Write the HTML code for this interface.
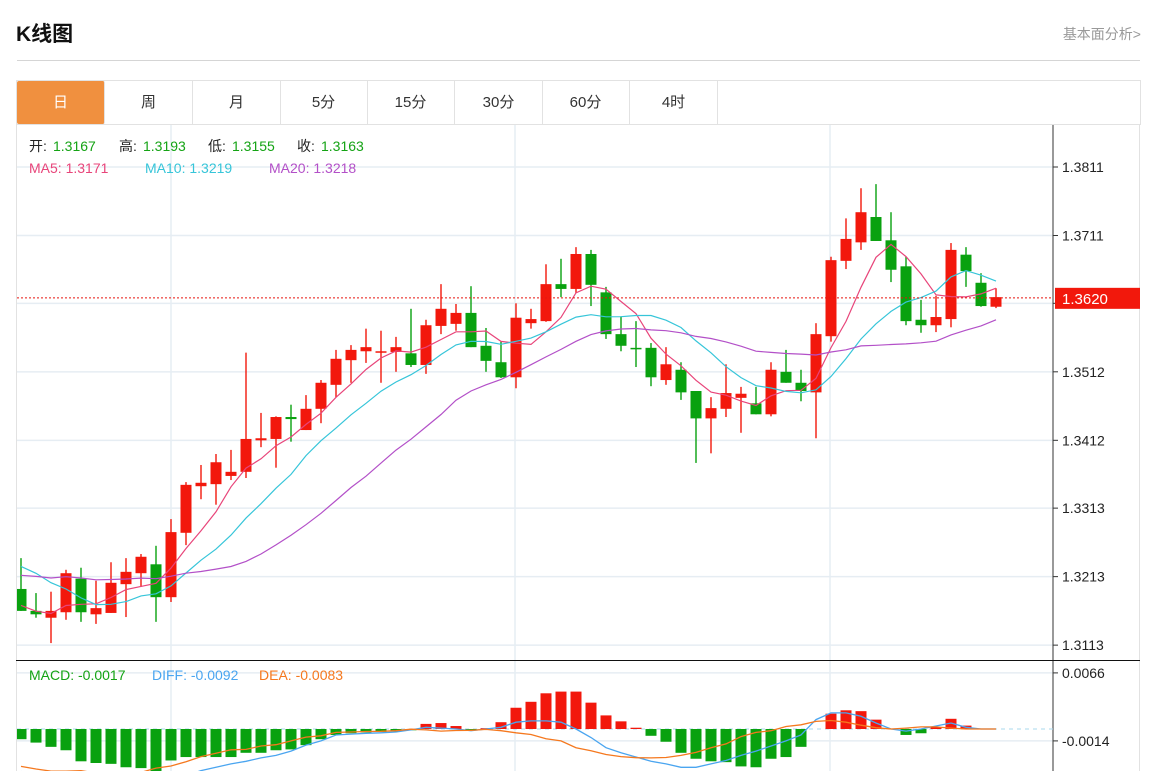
<!DOCTYPE html>
<html><head><meta charset="utf-8"><style>
html,body{margin:0;padding:0;background:#fff;}
body{width:1167px;height:771px;overflow:hidden;position:relative;font-family:"Liberation Sans","Noto Sans CJK SC",sans-serif;}
.title{position:absolute;left:16px;top:18px;font-size:21px;font-weight:bold;color:#111;}
.more{position:absolute;right:26px;top:24px;font-size:14px;color:#999;}
.hr{position:absolute;left:17px;top:60px;width:1123px;height:1px;background:#d5d5d5;}
.tabs{position:absolute;left:16px;top:80px;width:1123px;height:43px;border:1px solid #e2e2e2;border-bottom:1px solid #e2e2e2;}
.tab{position:absolute;top:0;height:43px;width:87px;border-right:1px solid #e2e2e2;text-align:center;line-height:43px;font-size:15px;color:#333;}
.tab.on{background:#f0903f;color:#fff;border-radius:2px;}
svg{position:absolute;left:0;top:0;}
</style></head><body>
<div class="title">K线图</div>
<div class="more">基本面分析&gt;</div>
<div class="hr"></div>
<div class="tabs">
<div class="tab on" style="left:0">日</div>
<div class="tab" style="left:88px">周</div>
<div class="tab" style="left:176px">月</div>
<div class="tab" style="left:263px">5分</div>
<div class="tab" style="left:350px">15分</div>
<div class="tab" style="left:438px">30分</div>
<div class="tab" style="left:525px">60分</div>
<div class="tab" style="left:613px">4时</div>
</div>
<svg id="chart" width="1167" height="771"></svg>
<script>
const opens=[1.3195,1.3163,1.3153,1.3161,1.3210,1.3158,1.3160,1.3202,1.3218,1.3231,1.3183,1.3277,1.3345,1.3348,1.3360,1.3366,1.3412,1.3414,1.3446,1.3427,1.3458,1.3493,1.3529,1.3542,1.3541,1.3541,1.3539,1.3522,1.3579,1.3582,1.3598,1.3550,1.3526,1.3504,1.3583,1.3586,1.3640,1.3633,1.3684,1.3628,1.3567,1.3547,1.3547,1.3500,1.3515,1.3484,1.3444,1.3458,1.3474,1.3466,1.3450,1.3512,1.3496,1.3482,1.3564,1.3674,1.3701,1.3738,1.3704,1.3666,1.3588,1.3580,1.3589,1.3683,1.3642,1.3607];
const closes=[1.3163,1.3158,1.3163,1.3218,1.3161,1.3167,1.3204,1.3220,1.3242,1.3183,1.3278,1.3347,1.3350,1.3380,1.3366,1.3414,1.3415,1.3446,1.3443,1.3458,1.3496,1.3531,1.3544,1.3548,1.3542,1.3548,1.3522,1.3580,1.3604,1.3598,1.3548,1.3528,1.3504,1.3591,1.3589,1.3640,1.3633,1.3684,1.3639,1.3567,1.3550,1.3545,1.3504,1.3523,1.3482,1.3444,1.3459,1.3481,1.3480,1.3450,1.3515,1.3496,1.3484,1.3567,1.3675,1.3706,1.3745,1.3703,1.3661,1.3586,1.3580,1.3592,1.3690,1.3659,1.3608,1.3621];
const highs=[1.3240,1.3189,1.3191,1.3223,1.3226,1.3207,1.3234,1.3240,1.3246,1.3258,1.3297,1.3351,1.3376,1.3392,1.3398,1.3540,1.3452,1.3447,1.3464,1.3478,1.3500,1.3544,1.3551,1.3575,1.3572,1.3563,1.3604,1.3588,1.3640,1.3611,1.3637,1.3576,1.3556,1.3612,1.3604,1.3669,1.3677,1.3694,1.3690,1.3636,1.3593,1.3586,1.3554,1.3548,1.3526,1.3484,1.3475,1.3523,1.3490,1.3490,1.3526,1.3544,1.3515,1.3583,1.3680,1.3736,1.3780,1.3786,1.3745,1.3680,1.3617,1.3623,1.3700,1.3694,1.3656,1.3634];
const lows=[1.3163,1.3153,1.3116,1.3150,1.3147,1.3144,1.3160,1.3154,1.3198,1.3147,1.3176,1.3259,1.3326,1.3318,1.3354,1.3357,1.3402,1.3372,1.3410,1.3427,1.3437,1.3475,1.3496,1.3525,1.3496,1.3512,1.3519,1.3509,1.3567,1.3572,1.3548,1.3512,1.3503,1.3488,1.3575,1.3585,1.3621,1.3627,1.3608,1.3560,1.3542,1.3519,1.3491,1.3493,1.3471,1.3379,1.3393,1.3446,1.3423,1.3450,1.3447,1.3496,1.3469,1.3415,1.3556,1.3662,1.3690,1.3703,1.3643,1.3580,1.3569,1.3570,1.3577,1.3636,1.3607,1.3605];
const priorCloses=[1.3190,1.3210,1.3180,1.3200,1.3220,1.3195,1.3205,1.3215,1.3200,1.3205,1.3260,1.3300,1.3310,1.3290,1.3265,1.3200,1.3180,1.3160,1.3152];
const priceTicks=[1.3811,1.3711,1.3612,1.3512,1.3412,1.3313,1.3213,1.3113];
const lastPrice=1.3620;
const macd=[-12,-16,-21,-25,-38,-40,-41,-45,-46,-52,-37,-33,-33,-33,-33,-28,-28,-25,-24,-19,-12,-7,-5,-4,-3.5,-3,-1.5,6,7,3.5,-1,1,8,25,32,42,44,44,31,16,9,1.5,-8,-15,-28,-35,-38,-39,-44,-45,-35,-33,-21,0,18,22,21,11,0,-7,-5,2,12,4,0.5,0];
const diff=[-50,-55,-60,-62,-68,-72,-74,-75,-74,-70,-62,-55,-49,-45,-41,-38,-34,-31,-26,-19,-14,-7,-6,-5,-4.5,-3.5,-1,2,1,0,-2,0,2,8,9.5,9.5,8,0,-10,-22,-28,-33,-38,-41,-45,-45,-41,-37,-31,-26,-20,-14,-7,11,19,19,15,7,0,-2.5,0,3.5,7,2,0,0];
const dea=[-44,-47,-49.5,-49.5,-49,-52,-53.5,-52.5,-51,-46,-43.5,-38.5,-32.5,-28.5,-24.5,-24,-20,-18.5,-14,-9.5,-8,-4,-3.5,-3,-2.75,-2,-0.25,-1,-2.5,-1.75,-1.5,-0.5,-2,-4.5,-6.5,-11.5,-14,-22,-25.5,-30,-32.5,-33.75,-34,-33.5,-31,-27.5,-22,-17.5,-9,-4,-2,3,5,9,10,8,4.5,1.5,0,1,2.5,2.5,1,0,0,0];
const macdTicks=[0.0066,-0.0014];

const NS='http://www.w3.org/2000/svg';
const svg=document.getElementById('chart');
function el(tag,attrs,parent){const e=document.createElementNS(NS,tag);for(const k in attrs)e.setAttribute(k,attrs[k]);(parent||svg).appendChild(e);return e;}
const xOf=i=>21+15*i;
const yP=p=>167+(1.3811-p)*6850;
const yM=v=>729-v*1e-4*8500;
const N=Math.min(opens.length,closes.length,highs.length,lows.length);
const RED='#f2180c',GREEN='#09a10f';

// chart frame
let r=el('rect',{x:16.5,y:124.5,width:1123,height:660,fill:'none',stroke:'#e2e2e2'});


// clip paths
const defs=el('defs',{});
const c1=el('clipPath',{id:'cp'},defs);el('rect',{x:17,y:125,width:1036,height:535},c1);
const c2=el('clipPath',{id:'cm'},defs);el('rect',{x:17,y:661,width:1036,height:110},c2);
// grid
const grid=el('g',{});


priceTicks.forEach(t=>{el('line',{x1:17,x2:1053,y1:yP(t),y2:yP(t),stroke:'#e6edf3','stroke-width':1.5},grid);});
macdTicks.forEach(t=>{el('line',{x1:17,x2:1053,y1:yM(t*1e4),y2:yM(t*1e4),stroke:'#e6edf3','stroke-width':1.5},grid);});
[171,515,830].forEach(x=>{el('line',{x1:x,x2:x,y1:125,y2:771,stroke:'#e6edf3','stroke-width':1.5},grid);});
// axes
el('line',{x1:1053,x2:1053,y1:125,y2:771,stroke:'#333'});
el('line',{x1:16,x2:1140,y1:660.5,y2:660.5,stroke:'#111'});
const yax=el('g',{});


priceTicks.forEach(t=>{const y=yP(t);el('line',{x1:1053,x2:1058,y1:y,y2:y,stroke:'#333'},yax);
 const tx=el('text',{x:1062,y:y+5,'font-size':14,fill:'#222'},yax);tx.textContent=t.toFixed(4);
 
 });
const max=el('g',{});


macdTicks.forEach(t=>{const y=yM(t*1e4);el('line',{x1:1053,x2:1058,y1:y,y2:y,stroke:'#333'},max);
 const tx=el('text',{x:1062,y:y+5,'font-size':14,fill:'#222'},max);tx.textContent=t.toFixed(4);
 
 });

// candles
const cg=el('g',{'clip-path':'url(#cp)'});


for(let i=0;i<N;i++){
 const up=closes[i]>=opens[i];const col=up?RED:GREEN;const x=xOf(i);
 const g=el('g',{},cg);
 
 
 el('line',{x1:x,x2:x,y1:yP(highs[i]),y2:yP(lows[i]),stroke:col,'stroke-width':1.4},g);
 const top=yP(Math.max(opens[i],closes[i])),bot=yP(Math.min(opens[i],closes[i]));
 el('rect',{x:x-5.5,y:top,width:11,height:Math.max(1.5,bot-top),fill:col},g);
}
// MA lines
const all=priorCloses.concat(closes.slice(0,N));
function ma(n){const out=[];for(let i=0;i<N;i++){const j=i+priorCloses.length;let s=0,c=0;for(let k=Math.max(0,j-n+1);k<=j;k++){s+=all[k];c++;}out.push(s/c);}return out;}
[[5,'#e8457a','ma5-line'],[10,'#36c5d9','ma10-line'],[20,'#b350c8','ma20-line']].forEach(([n,col,name])=>{
 const v=ma(n);const d=v.map((p,i)=>(i?'L':'M')+xOf(i)+','+yP(p).toFixed(1)).join('');
 const pth=el('path',{d:d,fill:'none',stroke:col,'stroke-width':1.2,'clip-path':'url(#cp)'});
 
 
});
// last price line
const lp=el('line',{x1:17,x2:1053,y1:yP(lastPrice),y2:yP(lastPrice),stroke:'#e8140f','stroke-dasharray':'2,2','stroke-width':1});


const lb=el('rect',{x:1055,y:yP(lastPrice)-10,width:85,height:21,fill:'#f2180c'});


const lt=el('text',{x:1062,y:yP(lastPrice)+6,'font-size':15,fill:'#fff'});lt.textContent=lastPrice.toFixed(4);



// MACD
const mg=el('g',{'clip-path':'url(#cm)'});


el('line',{x1:17,x2:1053,y1:yM(0),y2:yM(0),stroke:'#a8d8ee','stroke-dasharray':'4,4'},mg);
for(let i=0;i<macd.length;i++){
 const v=macd[i];if(Math.abs(v)<0.3)continue;const y0=yM(0),y1=yM(v);
 const b=el('rect',{x:xOf(i)-5.5,y:Math.min(y0,y1),width:11,height:Math.abs(y1-y0),fill:v>0?RED:GREEN},mg);
 
 
}
[[diff,'#4aa5f0','diff-line'],[dea,'#f5781e','dea-line']].forEach(([arr,col,name])=>{
 const d=arr.map((v,i)=>(i?'L':'M')+xOf(i)+','+yM(v).toFixed(1)).join('');
 const pth=el('path',{d:d,fill:'none',stroke:col,'stroke-width':1.3,'clip-path':'url(#cm)'});
 
 
});

// legends
function txt(x,y,s,col,name){const t=el('text',{x:x,y:y,'font-size':14,fill:col,'font-family':'"Liberation Sans","Noto Sans CJK SC",sans-serif'});t.textContent=s;
 
 return t;}
const G='#14a314';
txt(29,151,'开:','#222','open-label');txt(53,151,'1.3167',G,'open-value');
txt(119,151,'高:','#222','high-label');txt(143,151,'1.3193',G,'high-value');
txt(208,151,'低:','#222','low-label');txt(232,151,'1.3155',G,'low-value');
txt(297,151,'收:','#222','close-label');txt(321,151,'1.3163',G,'close-value');
txt(29,173,'MA5: 1.3171','#e8457a','ma5-legend');
txt(145,173,'MA10: 1.3219','#36c5d9','ma10-legend');
txt(269,173,'MA20: 1.3218','#b350c8','ma20-legend');
txt(29,680,'MACD: -0.0017','#14a314','macd-legend');
txt(152,680,'DIFF: -0.0092','#4aa5f0','diff-legend');
txt(259,680,'DEA: -0.0083','#f5781e','dea-legend');
</script>
</body></html>
